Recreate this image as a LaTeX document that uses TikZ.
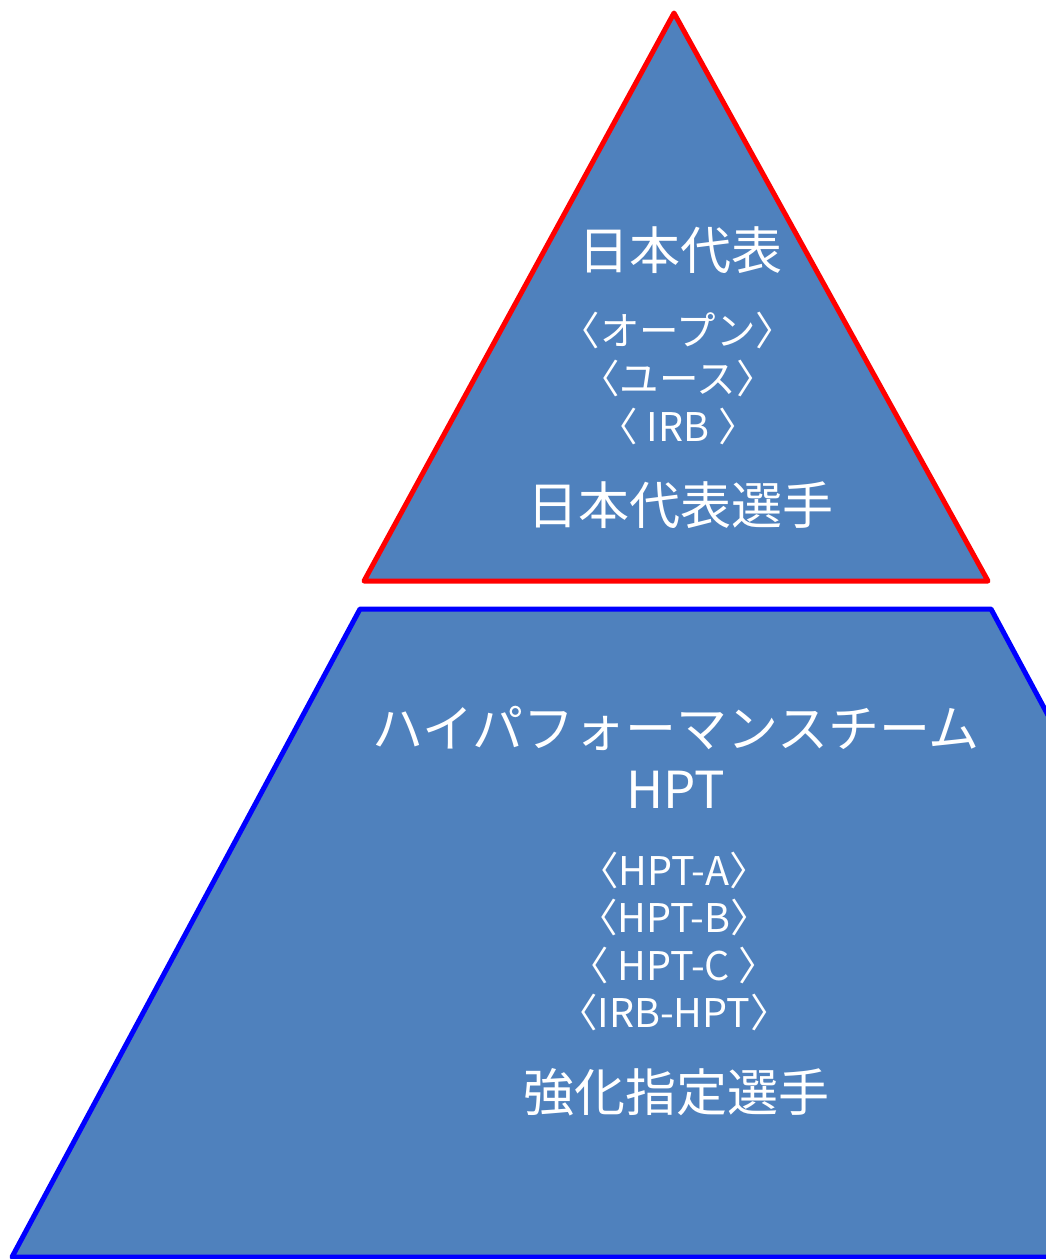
\documentclass[tikz,border=0pt]{standalone}
\usepackage{fontspec}
\setmainfont{Noto Sans CJK JP}
\definecolor{pyrfill}{HTML}{4F81BD}
\begin{document}
\begin{tikzpicture}[x=1pt,y=-1pt,
  tier/.style={fill=pyrfill,line width=5pt,line join=round},
  bigtxt/.style={text=white,font=\fontsize{51}{60}\selectfont,inner sep=0pt,anchor=center},
  smalltxt/.style={text=white,font=\fontsize{39.5}{46}\selectfont,inner sep=0pt,anchor=center}]
\useasboundingbox (0,0) rectangle (1046,1259);
\clip (0,0) rectangle (1046,1259);
% top triangle
\draw[tier,draw=red] (674,13) -- (988,581) -- (364,581) -- cycle;
% bottom trapezoid
\draw[tier,draw=blue] (360,609) -- (991,609) -- (1339,1257) -- (12,1257) -- cycle;
% top texts
\node[bigtxt] (t1) at (680,250) {日本代表};
\node[smalltxt] (t2) at (678,330) {〈オープン〉};
\node[smalltxt] (t3) at (678,378) {〈ユース〉};
\node[smalltxt] (t4) at (678,426) {〈 IRB 〉};
\node[bigtxt] (t5) at (680,505) {日本代表選手};
% bottom texts
\node[bigtxt] (b1) at (676,728) {ハイパフォーマンスチーム};
\node[bigtxt] (b2) at (676,790) {HPT};
\node[smalltxt] (b3) at (674,870) {〈HPT-A〉};
\node[smalltxt] (b4) at (674,917) {〈HPT-B〉};
\node[smalltxt] (b5) at (674,965) {〈 HPT-C 〉};
\node[smalltxt] (b6) at (674,1012) {〈IRB-HPT〉};
\node[bigtxt] (b7) at (676,1092) {強化指定選手};
\end{tikzpicture}
\end{document}
